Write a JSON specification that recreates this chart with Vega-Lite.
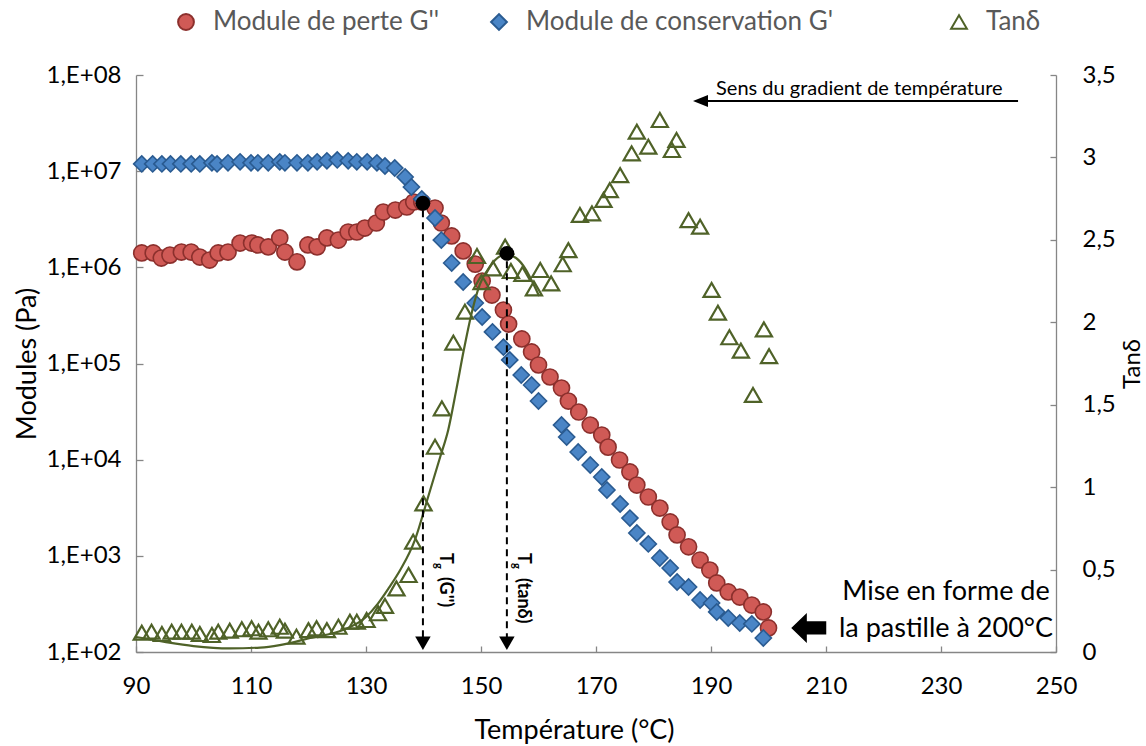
{
  "$schema": "https://vega.github.io/schema/vega-lite/v6.json",
  "width": 920,
  "height": 577,
  "autosize": {"type": "none"},
  "padding": {"left": 136, "top": 75, "right": 90, "bottom": 94},
  "background": "white",
  "config": {
    "view": {"stroke": null},
    "axis": {"grid": false, "domainColor": "#868686", "domainWidth": 1.3, "tickColor": "#868686", "tickWidth": 1.3, "labelFont": "Lato", "titleFont": "Lato", "labelColor": "#000000", "titleColor": "#000000", "titleFontWeight": "normal", "labelFontSize": 24, "titleFontSize": 27, "labelFlush": false, "labelOverlap": false}
  },
  "datasets": {
    "moduli": [
      {"T": 91.0, "G": 1.41e6, "series": "Module de perte G''"},
      {"T": 93.0, "G": 1.41e6, "series": "Module de perte G''"},
      {"T": 94.4, "G": 1.25e6, "series": "Module de perte G''"},
      {"T": 95.9, "G": 1.34e6, "series": "Module de perte G''"},
      {"T": 97.9, "G": 1.44e6, "series": "Module de perte G''"},
      {"T": 99.6, "G": 1.44e6, "series": "Module de perte G''"},
      {"T": 101.1, "G": 1.28e6, "series": "Module de perte G''"},
      {"T": 102.8, "G": 1.19e6, "series": "Module de perte G''"},
      {"T": 104.3, "G": 1.41e6, "series": "Module de perte G''"},
      {"T": 106.0, "G": 1.44e6, "series": "Module de perte G''"},
      {"T": 108.1, "G": 1.79e6, "series": "Module de perte G''"},
      {"T": 110.1, "G": 1.79e6, "series": "Module de perte G''"},
      {"T": 111.2, "G": 1.71e6, "series": "Module de perte G''"},
      {"T": 113.0, "G": 1.63e6, "series": "Module de perte G''"},
      {"T": 115.0, "G": 2.02e6, "series": "Module de perte G''"},
      {"T": 115.9, "G": 1.44e6, "series": "Module de perte G''"},
      {"T": 118.0, "G": 1.14e6, "series": "Module de perte G''"},
      {"T": 119.9, "G": 1.71e6, "series": "Module de perte G''"},
      {"T": 121.5, "G": 1.63e6, "series": "Module de perte G''"},
      {"T": 123.2, "G": 2.02e6, "series": "Module de perte G''"},
      {"T": 125.2, "G": 1.92e6, "series": "Module de perte G''"},
      {"T": 126.9, "G": 2.33e6, "series": "Module de perte G''"},
      {"T": 128.4, "G": 2.33e6, "series": "Module de perte G''"},
      {"T": 129.8, "G": 2.56e6, "series": "Module de perte G''"},
      {"T": 131.8, "G": 2.89e6, "series": "Module de perte G''"},
      {"T": 133.0, "G": 3.76e6, "series": "Module de perte G''"},
      {"T": 135.1, "G": 3.94e6, "series": "Module de perte G''"},
      {"T": 137.1, "G": 4.24e6, "series": "Module de perte G''"},
      {"T": 138.3, "G": 4.78e6, "series": "Module de perte G''"},
      {"T": 139.7, "G": 4.78e6, "series": "Module de perte G''"},
      {"T": 142.0, "G": 4.14e6, "series": "Module de perte G''"},
      {"T": 143.1, "G": 2.89e6, "series": "Module de perte G''"},
      {"T": 144.9, "G": 2.12e6, "series": "Module de perte G''"},
      {"T": 146.9, "G": 1.48e6, "series": "Module de perte G''"},
      {"T": 149.0, "G": 1.08e6, "series": "Module de perte G''"},
      {"T": 150.2, "G": 7.21e5, "series": "Module de perte G''"},
      {"T": 151.9, "G": 5.15e5, "series": "Module de perte G''"},
      {"T": 153.9, "G": 3.60e5, "series": "Module de perte G''"},
      {"T": 154.8, "G": 2.57e5, "series": "Module de perte G''"},
      {"T": 157.1, "G": 1.80e5, "series": "Module de perte G''"},
      {"T": 158.8, "G": 1.32e5, "series": "Module de perte G''"},
      {"T": 160.0, "G": 9.65e4, "series": "Module de perte G''"},
      {"T": 162.0, "G": 7.24e4, "series": "Module de perte G''"},
      {"T": 164.0, "G": 5.56e4, "series": "Module de perte G''"},
      {"T": 165.2, "G": 4.07e4, "series": "Module de perte G''"},
      {"T": 167.0, "G": 3.13e4, "series": "Module de perte G''"},
      {"T": 169.0, "G": 2.29e4, "series": "Module de perte G''"},
      {"T": 171.0, "G": 1.80e4, "series": "Module de perte G''"},
      {"T": 172.1, "G": 1.35e4, "series": "Module de perte G''"},
      {"T": 174.1, "G": 9920, "series": "Module de perte G''"},
      {"T": 175.9, "G": 7450, "series": "Module de perte G''"},
      {"T": 177.1, "G": 5450, "series": "Module de perte G''"},
      {"T": 179.1, "G": 4090, "series": "Module de perte G''"},
      {"T": 181.1, "G": 3140, "series": "Module de perte G''"},
      {"T": 182.9, "G": 2250, "series": "Module de perte G''"},
      {"T": 184.1, "G": 1650, "series": "Module de perte G''"},
      {"T": 186.1, "G": 1240, "series": "Module de perte G''"},
      {"T": 188.1, "G": 905, "series": "Module de perte G''"},
      {"T": 189.8, "G": 712, "series": "Module de perte G''"},
      {"T": 191.0, "G": 522, "series": "Module de perte G''"},
      {"T": 193.0, "G": 421, "series": "Module de perte G''"},
      {"T": 195.0, "G": 373, "series": "Module de perte G''"},
      {"T": 197.1, "G": 308, "series": "Module de perte G''"},
      {"T": 199.1, "G": 261, "series": "Module de perte G''"},
      {"T": 200.0, "G": 178, "series": "Module de perte G''"},
      {"T": 91.0, "G": 1.19e7, "series": "Module de conservation G'"},
      {"T": 92.9, "G": 1.19e7, "series": "Module de conservation G'"},
      {"T": 94.5, "G": 1.19e7, "series": "Module de conservation G'"},
      {"T": 96.0, "G": 1.19e7, "series": "Module de conservation G'"},
      {"T": 97.8, "G": 1.19e7, "series": "Module de conservation G'"},
      {"T": 99.6, "G": 1.19e7, "series": "Module de conservation G'"},
      {"T": 101.1, "G": 1.19e7, "series": "Module de conservation G'"},
      {"T": 103.2, "G": 1.22e7, "series": "Module de conservation G'"},
      {"T": 104.1, "G": 1.19e7, "series": "Module de conservation G'"},
      {"T": 106.0, "G": 1.22e7, "series": "Module de conservation G'"},
      {"T": 108.1, "G": 1.25e7, "series": "Module de conservation G'"},
      {"T": 110.0, "G": 1.22e7, "series": "Module de conservation G'"},
      {"T": 111.2, "G": 1.22e7, "series": "Module de conservation G'"},
      {"T": 113.0, "G": 1.22e7, "series": "Module de conservation G'"},
      {"T": 115.0, "G": 1.25e7, "series": "Module de conservation G'"},
      {"T": 115.9, "G": 1.22e7, "series": "Module de conservation G'"},
      {"T": 118.0, "G": 1.22e7, "series": "Module de conservation G'"},
      {"T": 119.9, "G": 1.22e7, "series": "Module de conservation G'"},
      {"T": 121.5, "G": 1.25e7, "series": "Module de conservation G'"},
      {"T": 123.2, "G": 1.28e7, "series": "Module de conservation G'"},
      {"T": 125.0, "G": 1.31e7, "series": "Module de conservation G'"},
      {"T": 126.9, "G": 1.28e7, "series": "Module de conservation G'"},
      {"T": 128.4, "G": 1.25e7, "series": "Module de conservation G'"},
      {"T": 130.2, "G": 1.25e7, "series": "Module de conservation G'"},
      {"T": 131.9, "G": 1.22e7, "series": "Module de conservation G'"},
      {"T": 133.3, "G": 1.13e7, "series": "Module de conservation G'"},
      {"T": 135.0, "G": 1.08e7, "series": "Module de conservation G'"},
      {"T": 136.8, "G": 8.69e6, "series": "Module de conservation G'"},
      {"T": 137.9, "G": 6.84e6, "series": "Module de conservation G'"},
      {"T": 139.7, "G": 5.13e6, "series": "Module de conservation G'"},
      {"T": 142.0, "G": 3.26e6, "series": "Module de conservation G'"},
      {"T": 143.1, "G": 1.92e6, "series": "Module de conservation G'"},
      {"T": 144.9, "G": 1.11e6, "series": "Module de conservation G'"},
      {"T": 146.9, "G": 7.03e5, "series": "Module de conservation G'"},
      {"T": 149.0, "G": 4.26e5, "series": "Module de conservation G'"},
      {"T": 150.2, "G": 3.04e5, "series": "Module de conservation G'"},
      {"T": 152.0, "G": 2.13e5, "series": "Module de conservation G'"},
      {"T": 153.9, "G": 1.48e5, "series": "Module de conservation G'"},
      {"T": 155.0, "G": 1.09e5, "series": "Module de conservation G'"},
      {"T": 157.0, "G": 7.59e4, "series": "Module de conservation G'"},
      {"T": 158.8, "G": 5.97e4, "series": "Module de conservation G'"},
      {"T": 160.0, "G": 4.07e4, "series": "Module de conservation G'"},
      {"T": 164.0, "G": 2.29e4, "series": "Module de conservation G'"},
      {"T": 164.9, "G": 1.72e4, "series": "Module de conservation G'"},
      {"T": 166.9, "G": 1.20e4, "series": "Module de conservation G'"},
      {"T": 169.0, "G": 8800, "series": "Module de conservation G'"},
      {"T": 171.0, "G": 6600, "series": "Module de conservation G'"},
      {"T": 171.9, "G": 4840, "series": "Module de conservation G'"},
      {"T": 174.2, "G": 3460, "series": "Module de conservation G'"},
      {"T": 175.9, "G": 2470, "series": "Module de conservation G'"},
      {"T": 177.1, "G": 1730, "series": "Module de conservation G'"},
      {"T": 179.1, "G": 1330, "series": "Module de conservation G'"},
      {"T": 181.1, "G": 949, "series": "Module de conservation G'"},
      {"T": 182.9, "G": 747, "series": "Module de conservation G'"},
      {"T": 184.1, "G": 535, "series": "Module de conservation G'"},
      {"T": 186.1, "G": 474, "series": "Module de conservation G'"},
      {"T": 188.1, "G": 347, "series": "Module de conservation G'"},
      {"T": 190.1, "G": 323, "series": "Module de conservation G'"},
      {"T": 191.0, "G": 261, "series": "Module de conservation G'"},
      {"T": 193.0, "G": 226, "series": "Module de conservation G'"},
      {"T": 195.0, "G": 200, "series": "Module de conservation G'"},
      {"T": 197.1, "G": 196, "series": "Module de conservation G'"},
      {"T": 199.1, "G": 140, "series": "Module de conservation G'"}
    ],
    "tand": [
      {"T": 91.0, "tan": 0.117, "series": "Tanδ"},
      {"T": 92.7, "tan": 0.123, "series": "Tanδ"},
      {"T": 94.5, "tan": 0.109, "series": "Tanδ"},
      {"T": 96.2, "tan": 0.123, "series": "Tanδ"},
      {"T": 97.9, "tan": 0.123, "series": "Tanδ"},
      {"T": 99.7, "tan": 0.123, "series": "Tanδ"},
      {"T": 101.1, "tan": 0.109, "series": "Tanδ"},
      {"T": 103.2, "tan": 0.103, "series": "Tanδ"},
      {"T": 104.3, "tan": 0.123, "series": "Tanδ"},
      {"T": 106.3, "tan": 0.129, "series": "Tanδ"},
      {"T": 108.4, "tan": 0.138, "series": "Tanδ"},
      {"T": 110.1, "tan": 0.144, "series": "Tanδ"},
      {"T": 111.3, "tan": 0.123, "series": "Tanδ"},
      {"T": 113.0, "tan": 0.138, "series": "Tanδ"},
      {"T": 115.0, "tan": 0.153, "series": "Tanδ"},
      {"T": 115.9, "tan": 0.129, "series": "Tanδ"},
      {"T": 117.9, "tan": 0.093, "series": "Tanδ"},
      {"T": 120.0, "tan": 0.133, "series": "Tanδ"},
      {"T": 121.4, "tan": 0.144, "series": "Tanδ"},
      {"T": 123.2, "tan": 0.133, "series": "Tanδ"},
      {"T": 125.2, "tan": 0.153, "series": "Tanδ"},
      {"T": 127.2, "tan": 0.184, "series": "Tanδ"},
      {"T": 128.4, "tan": 0.184, "series": "Tanδ"},
      {"T": 130.1, "tan": 0.194, "series": "Tanδ"},
      {"T": 132.1, "tan": 0.235, "series": "Tanδ"},
      {"T": 133.3, "tan": 0.28, "series": "Tanδ"},
      {"T": 135.3, "tan": 0.386, "series": "Tanδ"},
      {"T": 137.4, "tan": 0.467, "series": "Tanδ"},
      {"T": 138.2, "tan": 0.669, "series": "Tanδ"},
      {"T": 140.0, "tan": 0.902, "series": "Tanδ"},
      {"T": 142.0, "tan": 1.245, "series": "Tanδ"},
      {"T": 143.2, "tan": 1.478, "series": "Tanδ"},
      {"T": 145.2, "tan": 1.877, "series": "Tanδ"},
      {"T": 147.2, "tan": 2.064, "series": "Tanδ"},
      {"T": 149.3, "tan": 2.402, "series": "Tanδ"},
      {"T": 150.1, "tan": 2.244, "series": "Tanδ"},
      {"T": 152.1, "tan": 2.327, "series": "Tanδ"},
      {"T": 154.2, "tan": 2.459, "series": "Tanδ"},
      {"T": 155.2, "tan": 2.311, "series": "Tanδ"},
      {"T": 157.2, "tan": 2.293, "series": "Tanδ"},
      {"T": 159.2, "tan": 2.205, "series": "Tanδ"},
      {"T": 160.3, "tan": 2.317, "series": "Tanδ"},
      {"T": 162.2, "tan": 2.236, "series": "Tanδ"},
      {"T": 164.2, "tan": 2.352, "series": "Tanδ"},
      {"T": 165.2, "tan": 2.438, "series": "Tanδ"},
      {"T": 167.2, "tan": 2.651, "series": "Tanδ"},
      {"T": 169.3, "tan": 2.661, "series": "Tanδ"},
      {"T": 171.3, "tan": 2.742, "series": "Tanδ"},
      {"T": 172.4, "tan": 2.802, "series": "Tanδ"},
      {"T": 174.2, "tan": 2.893, "series": "Tanδ"},
      {"T": 176.2, "tan": 3.025, "series": "Tanδ"},
      {"T": 177.1, "tan": 3.156, "series": "Tanδ"},
      {"T": 179.1, "tan": 3.065, "series": "Tanδ"},
      {"T": 181.1, "tan": 3.227, "series": "Tanδ"},
      {"T": 183.2, "tan": 3.045, "series": "Tanδ"},
      {"T": 184.0, "tan": 3.106, "series": "Tanδ"},
      {"T": 186.1, "tan": 2.62, "series": "Tanδ"},
      {"T": 188.1, "tan": 2.58, "series": "Tanδ"},
      {"T": 190.1, "tan": 2.196, "series": "Tanδ"},
      {"T": 191.2, "tan": 2.058, "series": "Tanδ"},
      {"T": 193.2, "tan": 1.909, "series": "Tanδ"},
      {"T": 195.2, "tan": 1.828, "series": "Tanδ"},
      {"T": 197.3, "tan": 1.559, "series": "Tanδ"},
      {"T": 199.2, "tan": 1.957, "series": "Tanδ"},
      {"T": 200.1, "tan": 1.795, "series": "Tanδ"}
    ],
    "fit": [
      {"T": 90, "tan": 0.091}, {"T": 95, "tan": 0.061}, {"T": 100, "tan": 0.036}, {"T": 106.3, "tan": 0.022},
      {"T": 111.6, "tan": 0.027}, {"T": 115, "tan": 0.042}, {"T": 120.3, "tan": 0.085}, {"T": 126, "tan": 0.133},
      {"T": 130, "tan": 0.212}, {"T": 132, "tan": 0.29}, {"T": 134, "tan": 0.39}, {"T": 136, "tan": 0.5},
      {"T": 138.5, "tan": 0.679}, {"T": 140.8, "tan": 0.94}, {"T": 142.9, "tan": 1.183}, {"T": 144.3, "tan": 1.347},
      {"T": 145.7, "tan": 1.59}, {"T": 147, "tan": 1.83}, {"T": 148.4, "tan": 2.06}, {"T": 149.8, "tan": 2.23},
      {"T": 151.6, "tan": 2.34}, {"T": 153.3, "tan": 2.4}, {"T": 154.5, "tan": 2.41}, {"T": 156.1, "tan": 2.39},
      {"T": 157.8, "tan": 2.32}, {"T": 159, "tan": 2.24}, {"T": 160.1, "tan": 2.16}
    ]
  },
  "layer": [
    {
      "data": {"name": "moduli"},
      "mark": {"type": "point", "filled": true, "strokeWidth": 1.6, "opacity": 1, "size": 260},
      "encoding": {
        "x": {"field": "T", "type": "quantitative", "title": "Température (°C)", "scale": {"domain": [90, 250], "nice": false, "zero": false},
              "axis": {"values": [90, 110, 130, 150, 170, 190, 210, 230, 250], "tickSize": -6, "labelPadding": 28, "titlePadding": 19, "titleX": 438}},
        "y": {"field": "G", "type": "quantitative", "title": "Modules (Pa)", "scale": {"type": "log", "domain": [100, 100000000], "nice": false},
              "axis": {"orient": "left", "values": [100, 1000, 10000, 100000, 1000000, 10000000, 100000000], "labelExpr": "'1,E+0' + round(log(datum.value)/LN10)", "tickSize": -7, "labelPadding": 22, "titlePadding": 5}},
        "shape": {"field": "series", "type": "nominal",
                  "scale": {"domain": ["Module de perte G''", "Module de conservation G'", "Tanδ"], "range": ["circle", "diamond", "triangle-up"]},
                  "legend": {"orient": "none", "legendX": 37, "legendY": -66, "direction": "horizontal", "title": null, "labelFont": "Lato", "labelFontSize": 26, "labelColor": "#595959", "symbolSize": 250, "symbolStrokeWidth": 2, "columnPadding": 46, "labelOffset": 14, "padding": 0, "labelLimit": 800,
                             "labelExpr": "indexof(datum.label, 'conservation') >= 0 ? datum.label + '\u00a0\u00a0\u00a0\u00a0\u00a0\u00a0\u00a0\u00a0\u00a0\u00a0\u200b' : datum.label"}},
        "fill": {"field": "series", "type": "nominal",
                 "scale": {"domain": ["Module de perte G''", "Module de conservation G'", "Tanδ"], "range": ["#D05A56", "#4A85C6", "transparent"]}},
        "stroke": {"field": "series", "type": "nominal",
                   "scale": {"domain": ["Module de perte G''", "Module de conservation G'", "Tanδ"], "range": ["#8C302D", "#2A5B91", "#4F6228"]}}
      }
    },
    {
      "layer": [
        {
          "data": {"name": "fit"},
          "mark": {"type": "line", "color": "#4F6228", "strokeWidth": 2.2, "interpolate": "monotone"},
          "encoding": {
            "x": {"field": "T", "type": "quantitative", "title": "Température (°C)", "scale": {"domain": [90, 250], "nice": false, "zero": false}},
            "y": {"field": "tan", "type": "quantitative", "title": "Tanδ", "scale": {"domain": [0, 3.5], "nice": false},
                  "axis": {"orient": "right", "values": [0, 0.5, 1, 1.5, 2, 2.5, 3, 3.5], "labelExpr": "replace(format(datum.value, '~g'), '.', ',')", "titleFontSize": 24, "titleAngle": 270, "titleBaseline": "top", "tickSize": -6, "labelPadding": 32, "titlePadding": 5}}
          }
        },
        {
          "data": {"name": "tand"},
          "mark": {"type": "point", "filled": true, "strokeWidth": 2.2, "opacity": 1, "size": 260},
          "encoding": {
            "x": {"field": "T", "type": "quantitative", "title": "Température (°C)", "scale": {"domain": [90, 250], "nice": false, "zero": false}},
            "y": {"field": "tan", "type": "quantitative", "title": "Tanδ", "scale": {"domain": [0, 3.5], "nice": false}},
            "shape": {"field": "series", "type": "nominal", "scale": {"domain": ["Module de perte G''", "Module de conservation G'", "Tanδ"], "range": ["circle", "diamond", "triangle-up"]}},
            "fill": {"field": "series", "type": "nominal", "scale": {"domain": ["Module de perte G''", "Module de conservation G'", "Tanδ"], "range": ["#D05A56", "#4A85C6", "transparent"]}},
            "stroke": {"field": "series", "type": "nominal", "scale": {"domain": ["Module de perte G''", "Module de conservation G'", "Tanδ"], "range": ["#8C302D", "#2A5B91", "#4F6228"]}}
          }
        },
        {
          "data": {"values": [{"T": 139.9, "top": 2.68, "bot": 0.09}, {"T": 154.5, "top": 2.37, "bot": 0.09}]},
          "mark": {"type": "rule", "color": "#000000", "strokeWidth": 2, "strokeDash": [7, 5]},
          "encoding": {
            "x": {"field": "T", "type": "quantitative", "title": "Température (°C)", "scale": {"domain": [90, 250], "nice": false, "zero": false}},
            "y": {"field": "top", "type": "quantitative", "title": "Tanδ", "scale": {"domain": [0, 3.5], "nice": false}},
            "y2": {"field": "bot"}
          }
        },
        {
          "data": {"values": [{"T": 139.9, "tan": 0.053}, {"T": 154.5, "tan": 0.053}]},
          "mark": {"type": "point", "shape": "triangle-down", "filled": true, "color": "#000000", "opacity": 1, "size": 240},
          "encoding": {
            "x": {"field": "T", "type": "quantitative", "title": "Température (°C)", "scale": {"domain": [90, 250], "nice": false, "zero": false}},
            "y": {"field": "tan", "type": "quantitative", "title": "Tanδ", "scale": {"domain": [0, 3.5], "nice": false}}
          }
        },
        {
          "data": {"values": [{"T": 139.9, "tan": 2.722}, {"T": 154.5, "tan": 2.418}]},
          "mark": {"type": "point", "shape": "circle", "filled": true, "color": "#000000", "opacity": 1, "size": 220},
          "encoding": {
            "x": {"field": "T", "type": "quantitative", "title": "Température (°C)", "scale": {"domain": [90, 250], "nice": false, "zero": false}},
            "y": {"field": "tan", "type": "quantitative", "title": "Tanδ", "scale": {"domain": [0, 3.5], "nice": false}}
          }
        },
        {
          "data": {"values": [{"T": 142.87, "tan": 0.6, "label": "T"}, {"T": 142.87, "tan": 0.455, "label": "(G'')"}, {"T": 156.52, "tan": 0.6, "label": "T"}, {"T": 156.52, "tan": 0.449, "label": "(tanδ)"}]},
          "mark": {"type": "text", "angle": 90, "align": "left", "baseline": "alphabetic", "font": "Lato", "fontWeight": "bold", "fontSize": 18, "color": "#000000"},
          "encoding": {
            "x": {"field": "T", "type": "quantitative", "title": "Température (°C)", "scale": {"domain": [90, 250], "nice": false, "zero": false}},
            "y": {"field": "tan", "type": "quantitative", "title": "Tanδ", "scale": {"domain": [0, 3.5], "nice": false}},
            "text": {"field": "label"}
          }
        },
        {
          "data": {"values": [{"T": 142.0, "tan": 0.54, "label": "g"}, {"T": 155.65, "tan": 0.54, "label": "g"}]},
          "mark": {"type": "text", "angle": 90, "align": "left", "baseline": "alphabetic", "font": "Lato", "fontWeight": "bold", "fontSize": 11, "color": "#000000"},
          "encoding": {
            "x": {"field": "T", "type": "quantitative", "title": "Température (°C)", "scale": {"domain": [90, 250], "nice": false, "zero": false}},
            "y": {"field": "tan", "type": "quantitative", "title": "Tanδ", "scale": {"domain": [0, 3.5], "nice": false}},
            "text": {"field": "label"}
          }
        },
        {
          "data": {"values": [{"T": 188.2, "T2": 243.4, "tan": 3.342}]},
          "mark": {"type": "rule", "color": "#000000", "strokeWidth": 2},
          "encoding": {
            "x": {"field": "T", "type": "quantitative", "title": "Température (°C)", "scale": {"domain": [90, 250], "nice": false, "zero": false}},
            "x2": {"field": "T2"},
            "y": {"field": "tan", "type": "quantitative", "title": "Tanδ", "scale": {"domain": [0, 3.5], "nice": false}}
          }
        },
        {
          "data": {"values": [{"T": 188.17, "tan": 3.342}]},
          "mark": {"type": "point", "shape": "M-1,0L1,-0.8L1,0.8Z", "filled": true, "color": "#000000", "opacity": 1, "size": 225},
          "encoding": {
            "x": {"field": "T", "type": "quantitative", "title": "Température (°C)", "scale": {"domain": [90, 250], "nice": false, "zero": false}},
            "y": {"field": "tan", "type": "quantitative", "title": "Tanδ", "scale": {"domain": [0, 3.5], "nice": false}}
          }
        },
        {
          "data": {"values": [{"T": 215.8, "tan": 3.379, "label": "Sens du gradient de température"}]},
          "mark": {"type": "text", "align": "center", "baseline": "alphabetic", "font": "Lato", "fontSize": 20, "color": "#000000"},
          "encoding": {
            "x": {"field": "T", "type": "quantitative", "title": "Température (°C)", "scale": {"domain": [90, 250], "nice": false, "zero": false}},
            "y": {"field": "tan", "type": "quantitative", "title": "Tanδ", "scale": {"domain": [0, 3.5], "nice": false}},
            "text": {"field": "label"}
          }
        },
        {
          "data": {"values": [{"T": 230.87, "tan": 0.366, "label": "Mise en forme de\nla pastille à 200°C"}]},
          "mark": {"type": "text", "align": "center", "baseline": "middle", "font": "Lato", "fontSize": 27, "lineBreak": "\n", "lineHeight": 37, "color": "#000000"},
          "encoding": {
            "x": {"field": "T", "type": "quantitative", "title": "Température (°C)", "scale": {"domain": [90, 250], "nice": false, "zero": false}},
            "y": {"field": "tan", "type": "quantitative", "title": "Tanδ", "scale": {"domain": [0, 3.5], "nice": false}},
            "text": {"field": "label"}
          }
        },
        {
          "data": {"values": [{"T": 207.0, "tan": 0.146}]},
          "mark": {"type": "point", "shape": "M-1,0L-0.11,-0.86L-0.11,-0.38L1,-0.38L1,0.38L-0.11,0.38L-0.11,0.86Z", "filled": true, "color": "#000000", "opacity": 1, "size": 1225},
          "encoding": {
            "x": {"field": "T", "type": "quantitative", "title": "Température (°C)", "scale": {"domain": [90, 250], "nice": false, "zero": false}},
            "y": {"field": "tan", "type": "quantitative", "title": "Tanδ", "scale": {"domain": [0, 3.5], "nice": false}}
          }
        }
      ]
    }
  ],
  "resolve": {"scale": {"y": "independent"}}
}
